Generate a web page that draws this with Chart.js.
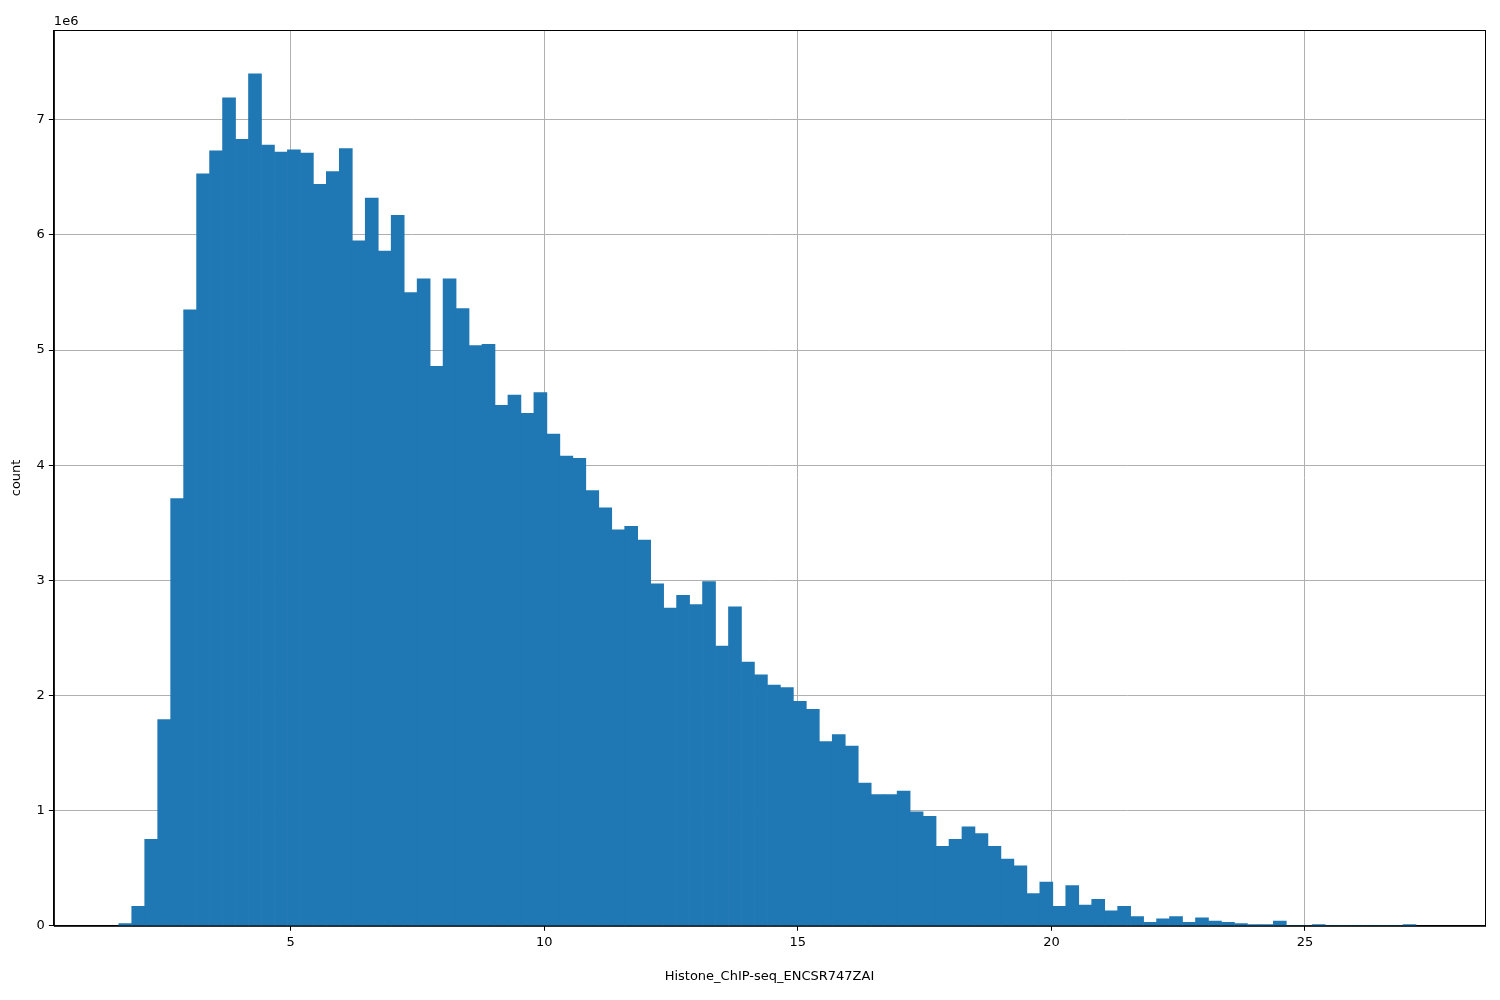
<!DOCTYPE html>
<html>
<head>
<meta charset="utf-8">
<script src="https://cdn.jsdelivr.net/npm/chart.js"></script>
<style>body{margin:0;background:#fff}</style>
</head>
<body>
<canvas id="c" width="1500" height="1000"></canvas>
<script>
// histogram bins (start, width) and counts in millions
const binStart = 1.61;
const binWidth = 0.2558;
const counts = [
  0.02, 0.17, 0.75, 1.79, 3.71, 5.35, 6.53, 6.73, 7.19, 6.83,
  7.40, 6.78, 6.72, 6.74, 6.71, 6.44, 6.55, 6.75, 5.95, 6.32,
  5.86, 6.17, 5.50, 5.62, 4.86, 5.62, 5.36, 5.04, 5.05, 4.52,
  4.61, 4.45, 4.63, 4.27, 4.08, 4.06, 3.78, 3.63, 3.44, 3.47,
  3.35, 2.97, 2.76, 2.87, 2.79, 2.99, 2.43, 2.77, 2.29, 2.18,
  2.09, 2.07, 1.95, 1.88, 1.60, 1.66, 1.56, 1.24, 1.14, 1.14,
  1.17, 0.99, 0.95, 0.69, 0.75, 0.86, 0.80, 0.69, 0.58, 0.52,
  0.28, 0.38, 0.17, 0.35, 0.18, 0.23, 0.13, 0.17, 0.08, 0.03,
  0.06, 0.08, 0.03, 0.07, 0.04, 0.03, 0.02, 0.01, 0.01, 0.04,
  0.00, 0.00, 0.01, 0.00, 0.00, 0.00, 0.00, 0.00, 0.00, 0.01
];
const xTicks = [5, 10, 15, 20, 25];
const yTicks = [0, 1, 2, 3, 4, 5, 6, 7];

const points = counts.map((v, i) => ({ x: binStart + binWidth * (i + 0.5), y: v * 1e6 }));

const frame = {
  id: 'frame',
  afterDraw(chart) {
    const { ctx, chartArea: a } = chart;
    ctx.save();
    ctx.strokeStyle = '#000';
    ctx.lineWidth = 1;
    ctx.strokeRect(a.left + 0.5, a.top + 0.5, a.right - a.left, a.bottom - a.top);
    ctx.fillStyle = '#000';
    ctx.font = '13px "DejaVu Sans"';
    ctx.fillText('1e6', a.left, a.top - 5);
    ctx.restore();
  }
};

new Chart(document.getElementById('c'), {
  type: 'bar',
  data: {
    datasets: [{
      data: points,
      backgroundColor: '#1f77b4',
      barPercentage: 1,
      categoryPercentage: 1,
      borderWidth: 0
    }]
  },
  options: {
    responsive: false,
    animation: false,
    layout: { padding: { top: 30, right: 15, left: 5, bottom: 12 } },
    plugins: { legend: { display: false }, tooltip: { enabled: false } },
    scales: {
      x: {
        type: 'linear',
        offset: false,
        min: 0.33,
        max: 28.55,
        z: 1,
        afterBuildTicks: s => { s.ticks = xTicks.map(v => ({ value: v })); },
        ticks: { color: '#000', font: { family: 'DejaVu Sans', size: 13 }, padding: 4 },
        grid: { offset: false, color: '#b0b0b0', tickColor: '#000', tickLength: 5 },
        border: { color: '#000' },
        title: { display: true, text: 'Histone_ChIP-seq_ENCSR747ZAI', color: '#000',
                 font: { family: 'DejaVu Sans', size: 13 }, padding: { top: 14 } }
      },
      y: {
        min: 0,
        max: 7.78e6,
        z: 1,
        afterBuildTicks: s => { s.ticks = yTicks.map(v => ({ value: v * 1e6 })); },
        ticks: { color: '#000', font: { family: 'DejaVu Sans', size: 13 }, padding: 4,
                 callback: v => String(v / 1e6) },
        grid: { color: '#b0b0b0', tickColor: '#000', tickLength: 5 },
        border: { color: '#000' },
        title: { display: true, text: 'count', color: '#000',
                 font: { family: 'DejaVu Sans', size: 13 }, padding: { bottom: 8 } }
      }
    }
  },
  plugins: [frame]
});
</script>
</body>
</html>
